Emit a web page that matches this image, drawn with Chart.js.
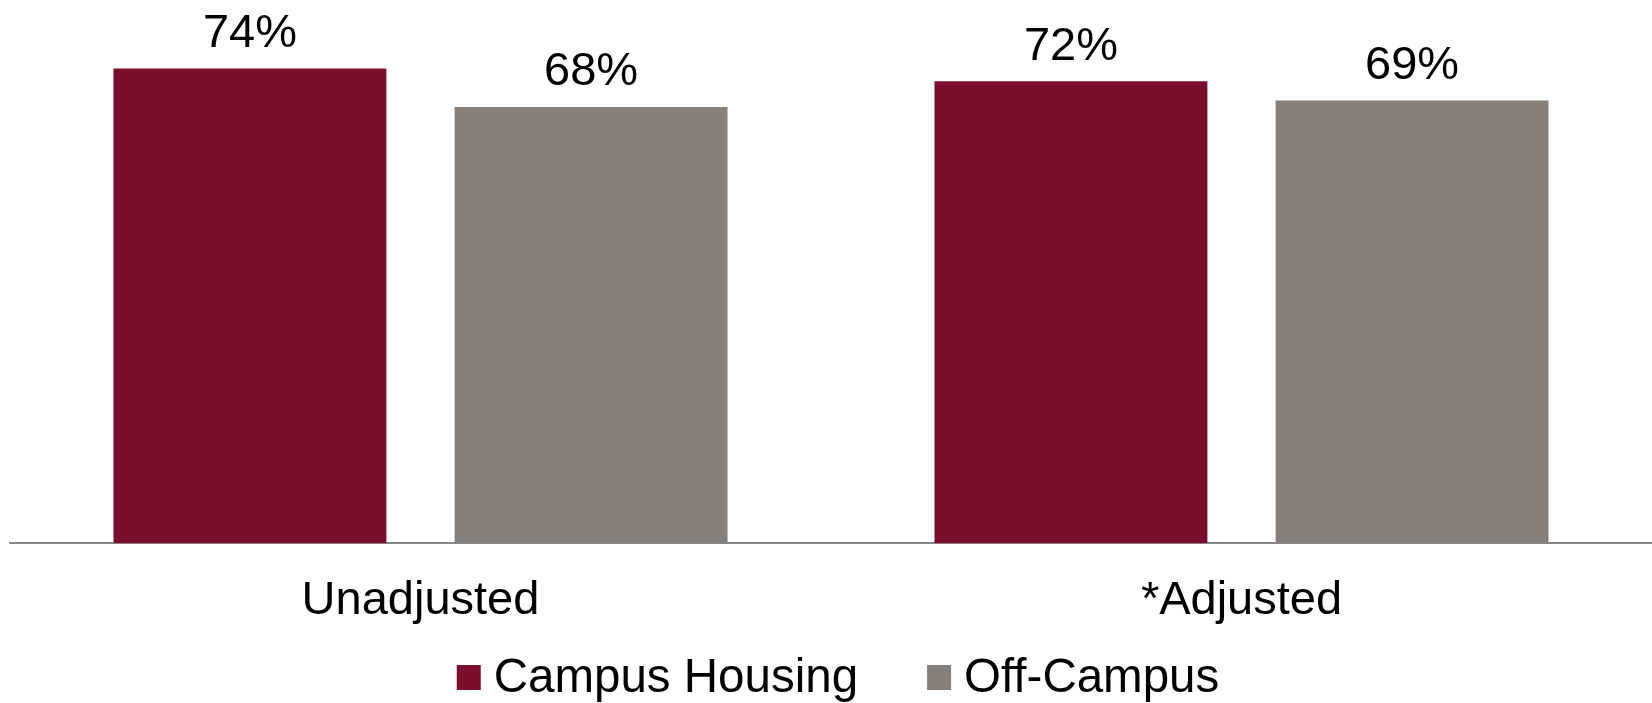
<!DOCTYPE html>
<html>
<head>
<meta charset="utf-8">
<script src="https://cdn.jsdelivr.net/npm/chart.js@4/dist/chart.umd.min.js"></script>
<style>
  html, body { margin: 0; padding: 0; background: #ffffff; }
  #wrap { width: 1652px; height: 703px; position: relative; }
</style>
</head>
<body>
<div id="wrap"><canvas id="c" width="1652" height="703"></canvas></div>
<script>
const categories = ["Unadjusted", "*Adjusted"];
const campusHousing = [74, 72];
const offCampus = [68, 69];
const seriesNames = ["Campus Housing", "Off-Campus"];

const FONT = '"Liberation Sans", Arial, sans-serif';
const FSIZE = 47;

const dataLabels = {
  id: 'dataLabels',
  afterDatasetsDraw(chart) {
    const ctx = chart.ctx;
    ctx.save();
    ctx.font = FSIZE + 'px ' + FONT;
    ctx.fillStyle = '#000000';
    ctx.textAlign = 'center';
    ctx.textBaseline = 'alphabetic';
    chart.data.datasets.forEach((ds, i) => {
      const meta = chart.getDatasetMeta(i);
      meta.data.forEach((bar, j) => {
        ctx.fillText(ds.data[j] + '%', bar.x, bar.y - 21.5);
      });
    });
    ctx.restore();
  }
};

const customLegend = {
  id: 'customLegend',
  afterDraw(chart) {
    const ctx = chart.ctx;
    ctx.save();
    ctx.font = '47.5px ' + FONT;
    const box = 24, gap = 13, itemGap = 69;
    const items = chart.data.datasets.map(ds => ({ text: ds.label, color: ds.backgroundColor, w: ctx.measureText(ds.label).width }));
    let total = 0;
    items.forEach((it, i) => { total += box + gap + it.w + (i < items.length - 1 ? itemGap : 0); });
    let x = (chart.width - total) / 2 + 12;
    const boxTop = 665, baseline = 692;
    items.forEach(it => {
      ctx.fillStyle = it.color;
      ctx.fillRect(x, boxTop, box, 25);
      ctx.fillStyle = '#000000';
      ctx.textAlign = 'left';
      ctx.textBaseline = 'alphabetic';
      ctx.fillText(it.text, x + box + gap, baseline);
      x += box + gap + it.w + itemGap;
    });
    ctx.restore();
  }
};

new Chart(document.getElementById('c'), {
  type: 'bar',
  data: {
    labels: categories,
    datasets: [
      { label: seriesNames[0], data: campusHousing, backgroundColor: '#7A0E2B', borderWidth: 0 },
      { label: seriesNames[1], data: offCampus, backgroundColor: '#877F7A', borderWidth: 0 }
    ]
  },
  options: {
    responsive: false,
    animation: false,
    devicePixelRatio: 1,
    categoryPercentage: 0.831,
    barPercentage: 0.8,
    layout: { padding: { top: 30, left: 10, right: 0, bottom: 43.4 } },
    plugins: { legend: { display: false }, tooltip: { enabled: false } },
    scales: {
      x: {
        grid: { display: false, drawTicks: false },
        border: { display: true, color: '#898989', width: 2 },
        ticks: { color: '#000000', font: { size: FSIZE, family: FONT }, padding: 30, maxRotation: 0 }
      },
      y: {
        display: false,
        min: 0,
        max: 80,
        grid: { display: false }
      }
    }
  },
  plugins: [dataLabels, customLegend]
});
</script>
</body>
</html>
